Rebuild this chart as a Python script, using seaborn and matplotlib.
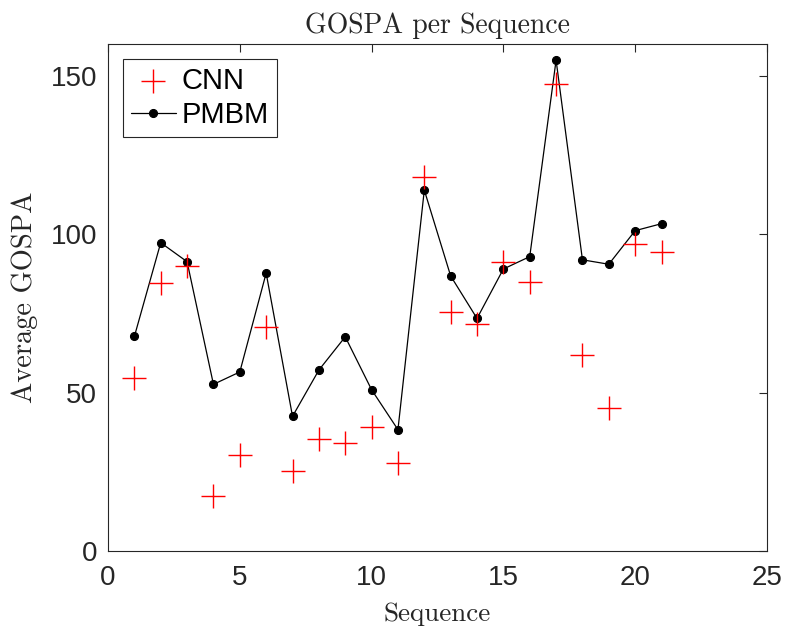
import numpy as np
import pandas as pd
import matplotlib
matplotlib.use("Agg")
import matplotlib.pyplot as plt
import seaborn as sns

# valores
sequencia = list(range(1, 22))
cnn = [54.7, 84.5, 89.8, 17.4, 30.2, 70.7, 25.3, 35.3, 34.0, 39.1, 27.7,
       118.0, 75.3, 71.6, 91.3, 84.9, 147.3, 61.8, 45.2, 96.9, 94.5]
pmbm = [67.7, 97.3, 91.3, 52.6, 56.5, 87.7, 42.5, 57.1, 67.6, 50.9, 38.3,
        113.9, 86.8, 73.4, 89.0, 92.9, 154.9, 91.9, 90.5, 101.1, 103.3]
xticks = [0, 5, 10, 15, 20, 25]
yticks = [0, 50, 100, 150]

df = pd.DataFrame({"Sequence": sequencia, "CNN": cnn, "PMBM": pmbm})

sns.set_style("white")
plt.rcParams["font.family"] = ["Liberation Sans", "DejaVu Sans"]
plt.rcParams["axes.unicode_minus"] = False

fig = plt.figure(figsize=(7.85, 6.29), dpi=100)
ax = fig.add_axes([0.1376, 0.124, 0.977 - 0.1376, 0.930 - 0.124])

sns.scatterplot(data=df, x="Sequence", y="CNN", marker="+", color="red",
                s=290, linewidth=1.0, label="CNN", ax=ax, zorder=3)
sns.lineplot(data=df, x="Sequence", y="PMBM", color="black", linewidth=0.9,
             marker="o", markersize=5.8, markeredgecolor="black",
             label="PMBM", ax=ax, zorder=2)

ax.set_xlim(0, 25)
ax.set_ylim(0, 160)
ax.set_xticks(xticks)
ax.set_yticks(yticks)

gris = "#262626"
for s in ax.spines.values():
    s.set_color(gris)
    s.set_linewidth(0.8)
ax.tick_params(direction="in", length=6, width=0.8, colors=gris,
               labelsize=20, top=True, right=True, labelcolor=gris)
ax.tick_params(axis="x", pad=10)
ax.tick_params(axis="y", pad=8)

ax.set_title("GOSPA per Sequence", family="cmr10", fontsize=20, pad=8)
ax.set_xlabel("Sequence", family="cmr10", fontsize=19.5, labelpad=8)
ax.set_ylabel("Average GOSPA", family="cmr10", fontsize=20.5, labelpad=9)

leg = ax.legend(loc="upper left", fancybox=False, edgecolor=gris,
                framealpha=1, fontsize=21, borderaxespad=0.5,
                handlelength=1.55, handletextpad=0.2, borderpad=0.28,
                labelspacing=0.22)
leg.get_frame().set_linewidth(0.8)
for t in leg.get_texts():
    t.set_color("black")

fig.savefig("out.png", dpi=100)
